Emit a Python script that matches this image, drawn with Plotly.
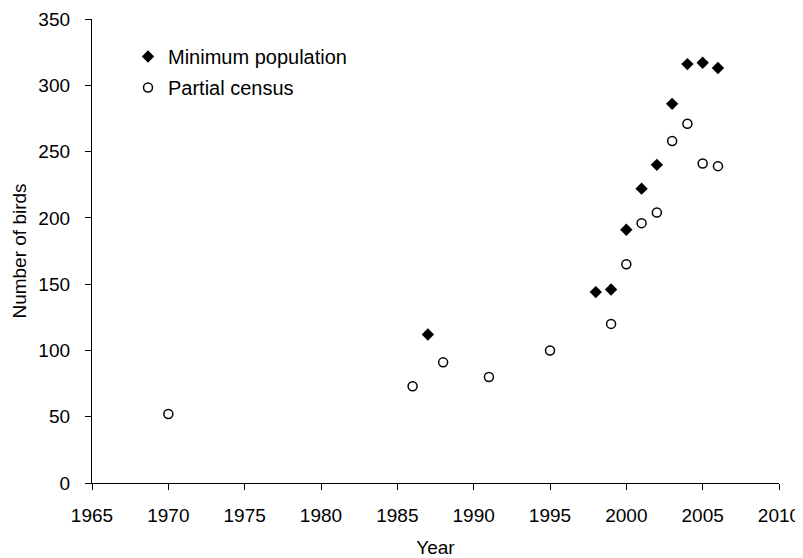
import plotly.graph_objects as go

# Data
min_years = [1987, 1998, 1999, 2000, 2001, 2002, 2003, 2004, 2005, 2006]
min_values = [112, 144, 146, 191, 222, 240, 286, 316, 317, 313]

census_years = [1970, 1986, 1988, 1991, 1995, 1999, 2000, 2001, 2002, 2003, 2004, 2005, 2006]
census_values = [52, 73, 91, 80, 100, 120, 165, 196, 204, 258, 271, 241, 239]

x_ticks = [1965, 1970, 1975, 1980, 1985, 1990, 1995, 2000, 2005, 2010]
y_ticks = [0, 50, 100, 150, 200, 250, 300, 350]

FONT = "Arial, 'Liberation Sans', sans-serif"

fig = go.Figure()
fig.add_trace(go.Scatter(
    x=min_years, y=min_values, mode="markers", name="Minimum population",
    legendgroup="a",
    marker=dict(symbol="diamond", size=9.5, color="black", line=dict(width=0)),
))
fig.add_trace(go.Scatter(
    x=census_years, y=census_values, mode="markers", name="Partial census",
    legendgroup="b",
    marker=dict(symbol="circle", size=9, color="white", line=dict(width=1.5, color="black")),
))

# the page body has an 8px default margin, so the figure is 8px smaller
fig.update_layout(
    width=795, height=550,
    margin=dict(l=84, r=24, t=11, b=75),
    paper_bgcolor="white", plot_bgcolor="white",
    font=dict(family=FONT, size=19, color="black"),
    showlegend=True,
    legend=dict(
        x=36 / 687, y=1 - 18 / 464, xanchor="left", yanchor="top",
        bgcolor="rgba(0,0,0,0)", font=dict(size=20), tracegroupgap=2,
    ),
    xaxis=dict(
        range=[1965, 2010], tickvals=x_ticks, ticktext=[str(v) for v in x_ticks],
        showgrid=False, zeroline=False, showline=True, linecolor="black", linewidth=1.3,
        ticks="outside", ticklen=6, tickwidth=1.3, tickcolor="black",
        ticklabelstandoff=9, automargin=False,
        title=dict(text="Year", font=dict(size=19), standoff=17),
    ),
    yaxis=dict(
        range=[0, 350], tickvals=y_ticks, ticktext=[str(v) for v in y_ticks],
        showgrid=False, zeroline=False, showline=True, linecolor="black", linewidth=1.3,
        ticks="outside", ticklen=6, tickwidth=1.3, tickcolor="black",
        ticklabelstandoff=11, automargin=False,
        title=dict(text="Number of birds", font=dict(size=19), standoff=6),
    ),
)

fig.write_html("out.html")
